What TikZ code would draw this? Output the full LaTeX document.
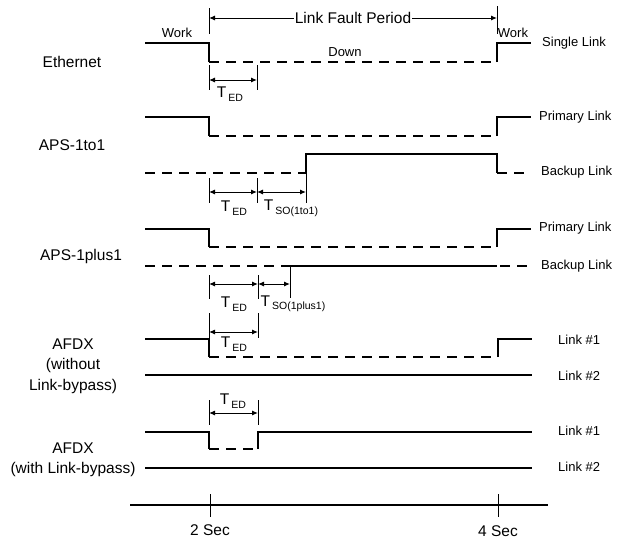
\documentclass[tikz,border=0pt]{standalone}
\usepackage{fontspec}
\setmainfont{Liberation Sans}
\usetikzlibrary{arrows.meta}

\newcommand{\tsub}[1]{T\kern2pt\raisebox{-3.5pt}{\fontsize{10.5}{10.5}\selectfont #1}}

\begin{document}
\begin{tikzpicture}[
  x=1pt, y=-1pt,
  sig/.style={line width=1.4pt},
  down/.style={line width=1.3pt, dash pattern=on 10pt off 7pt},
  tick/.style={line width=1pt},
  dim/.style={{Latex[length=6pt,width=5pt]}-{Latex[length=6pt,width=5pt]}, line width=1pt},
  rowlbl/.style={font=\fontsize{15.5}{20.5}\selectfont, align=center},
  lnk/.style={font=\fontsize{13}{15}\selectfont, anchor=west, inner sep=0pt},
  smalllbl/.style={font=\fontsize{13}{15}\selectfont, inner sep=0pt},
  tlbl/.style={font=\fontsize{15.5}{15.5}\selectfont, inner sep=0pt}
]
\useasboundingbox (0,0) rectangle (627,542);

% row names
\node[rowlbl] (eth) at (72,62) {Ethernet};
\node[rowlbl] (aps1) at (72,145) {APS-1to1};
\node[rowlbl] (aps2) at (81,256) {APS-1plus1};
\node[rowlbl] (afdx1) at (73,366) {AFDX\\(without\\Link-bypass)};
\node[rowlbl] (afdx2) at (73,460) {AFDX\\(with Link-bypass)};

% link fault period
\draw[tick] (209,8) -- (209,34);
\draw[tick] (497,6) -- (497,34);
\draw[dim] (209,18) -- node[fill=white, inner sep=1pt, font=\fontsize{15.5}{18}\selectfont] (lfp) {Link Fault Period} (497,18);

% Ethernet
\draw[sig] (145,43) -- (209,43) -- (209,62);
\draw[down] (209,62) -- (497,62);
\draw[sig] (497,62) -- (497,43) -- (531,43);
\node[smalllbl] (work1) at (177,33) {Work};
\node[smalllbl] (work2) at (513,33) {Work};
\node[smalllbl] (dn) at (345,52) {Down};
\node[lnk] (single) at (542,43) {Single Link};
\draw[tick] (209,65) -- (209,90);
\draw[tick] (257,65) -- (257,90);
\draw[dim] (209,80) -- (257,80);
\node[tlbl] (ted1) at (230,94) {\tsub{ED}};

% APS-1to1
\draw[sig] (145,117) -- (209,117) -- (209,136);
\draw[down] (209,136) -- (497,136);
\draw[sig] (497,136) -- (497,117) -- (531,117);
\draw[down] (145,173) -- (306,173);
\draw[sig] (306,173) -- (306,154) -- (497,154) -- (497,173);
\draw[down] (497,173) -- (531,173);
\node[lnk] (prim1) at (539,117) {Primary Link};
\node[lnk] (back1) at (541,172) {Backup Link};
\draw[tick] (209,178) -- (209,203);
\draw[tick] (257,178) -- (257,203);
\draw[tick] (306,173) -- (306,203);
\draw[dim] (209,192) -- (257,192);
\draw[dim] (257,192) -- (306,192);
\node[tlbl] (ted2) at (234,208) {\tsub{ED}};
\node[tlbl] (tso1) at (291,208) {\tsub{SO(1to1)}};

% APS-1plus1
\draw[sig] (145,229) -- (209,229) -- (209,247);
\draw[down] (209,247) -- (497,247);
\draw[sig] (497,247) -- (497,229) -- (531,229);
\draw[down] (145,266) -- (290,266);
\draw[sig] (290,266) -- (497,266);
\draw[down] (500,266) -- (531,266);
\node[lnk] (prim2) at (539,228) {Primary Link};
\node[lnk] (back2) at (541,266) {Backup Link};
\draw[tick] (209,275) -- (209,299);
\draw[tick] (258,275) -- (258,299);
\draw[tick] (290,266) -- (290,298);
\draw[dim] (209,284) -- (258,284);
\draw[dim] (258,284) -- (290,284);
\node[tlbl] (ted3) at (234,304) {\tsub{ED}};
\node[tlbl] (tso2) at (293,304) {\tsub{SO(1plus1)}};

% AFDX without link-bypass
\draw[sig] (145,339) -- (209,339) -- (209,357);
\draw[down] (209,357) -- (498,357);
\draw[sig] (498,357) -- (498,339) -- (532,339);
\draw[sig] (145,375) -- (532,375);
\node[lnk] (l1a) at (558,340) {Link \#1};
\node[lnk] (l2a) at (558,376) {Link \#2};
\draw[tick] (209,313) -- (209,339);
\draw[tick] (258,313) -- (258,338);
\draw[dim] (209,332) -- (258,332);
\node[tlbl] (ted4) at (234,344) {\tsub{ED}};

% AFDX with link-bypass
\draw[sig] (145,432) -- (209,432) -- (209,449);
\draw[down] (209,449) -- (258,449);
\draw[sig] (258,449) -- (258,432) -- (532,432);
\draw[sig] (145,468) -- (532,468);
\node[lnk] (l1b) at (558,431) {Link \#1};
\node[lnk] (l2b) at (558,467) {Link \#2};
\draw[tick] (209,400) -- (209,425);
\draw[tick] (258,400) -- (258,425);
\draw[dim] (209,413) -- (258,413);
\node[tlbl] (ted5) at (233,401) {\tsub{ED}};

% time axis
\draw[sig, line width=1.1pt] (130,505) -- (548,505);
\draw[tick] (210,494) -- (210,517);
\draw[tick] (498,494) -- (498,517);
\node[rowlbl] (t2) at (210,530) {2 Sec};
\node[rowlbl] (t4) at (498,531) {4 Sec};
\end{tikzpicture}
\end{document}
